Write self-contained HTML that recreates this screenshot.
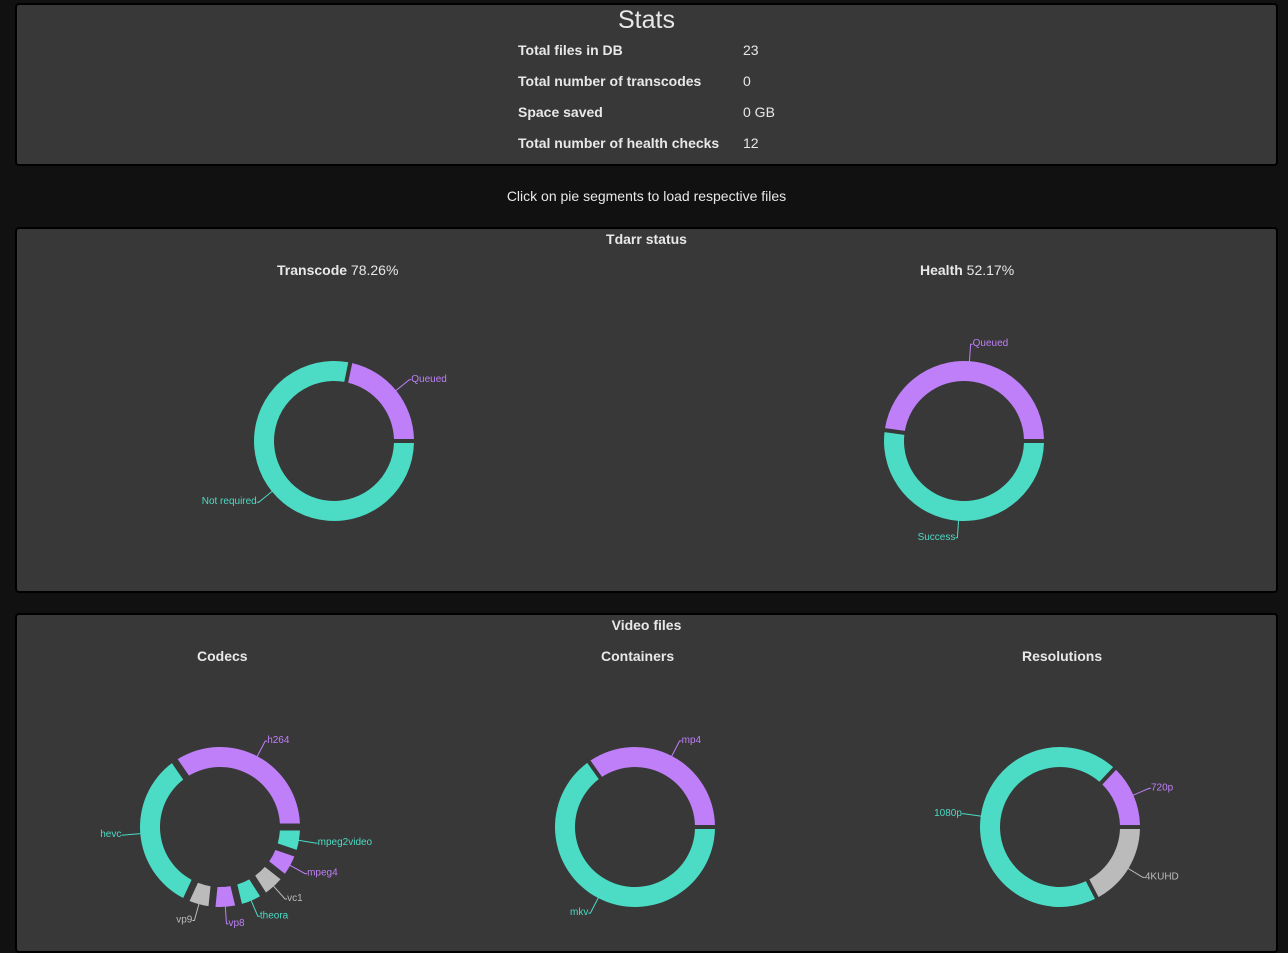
<!DOCTYPE html>
<html><head><meta charset="utf-8"><style>
body{margin:0;width:1288px;height:932px;background:#111;overflow:hidden;font-family:"Liberation Sans",sans-serif;color:#ddd;position:relative}
.panel{position:absolute;left:15px;width:1263px;background:#383838;border:2px solid #000;border-radius:4px;box-sizing:border-box}
.t{position:absolute;font-size:14px;color:#e8e8e8;white-space:nowrap}
.b{font-weight:bold}
svg{position:absolute;left:0;top:0}
</style></head><body>
<div class="panel" style="top:3px;height:163px"></div>
<div class="panel" style="top:227px;height:366px"></div>
<div class="panel" style="top:613px;height:340px"></div>
<div class="t" style="left:0;width:1293px;text-align:center;top:6px;font-size:25px">Stats</div>
<div class="t b" style="left:518px;top:42px">Total files in DB</div>
<div class="t" style="left:743px;top:42px">23</div>
<div class="t b" style="left:518px;top:73px">Total number of transcodes</div>
<div class="t" style="left:743px;top:73px">0</div>
<div class="t b" style="left:518px;top:104px">Space saved</div>
<div class="t" style="left:743px;top:104px">0 GB</div>
<div class="t b" style="left:518px;top:135px">Total number of health checks</div>
<div class="t" style="left:743px;top:135px">12</div>
<div class="t" style="left:0;width:1293px;text-align:center;top:188px">Click on pie segments to load respective files</div>
<div class="t b" style="left:0;width:1293px;text-align:center;top:231px">Tdarr status</div>
<div class="t" style="left:277px;top:262px"><b>Transcode</b> 78.26%</div>
<div class="t" style="left:920px;top:262px"><b>Health</b> 52.17%</div>
<div class="t b" style="left:0;width:1293px;text-align:center;top:617px">Video files</div>
<div class="t b" style="left:197px;top:648px">Codecs</div>
<div class="t b" style="left:601px;top:648px">Containers</div>
<div class="t b" style="left:1022px;top:648px">Resolutions</div>
<svg id="s" width="1288" height="932"></svg>
<script>
const C={t:'#4cdbc4',p:'#bf7ff8',g:'#bbbbbb'};
const transcodeLabels=['Queued','Not required'];
const transcodeValues=[5,18];
const healthLabels=['Queued','Success'];
const healthValues=[11,12];
const codecLabels=['h264','hevc','vp9','vp8','theora','vc1','mpeg4','mpeg2video'];
const codecValues=[6.5,6.3,1,1,1,1,1,1];
const containerLabels=['mp4','mkv'];
const containerValues=[8,15];
const resolutionLabels=['720p','1080p','4KUHD'];
const resolutionValues=[3,16,4];
const NS='http://www.w3.org/2000/svg';
const svg=document.getElementById('s');
function mk(tag,a){const e=document.createElementNS(NS,tag);for(const k in a)e.setAttribute(k,a[k]);svg.appendChild(e);return e;}
function pt(cx,cy,r,a){return [cx+r*Math.cos(a),cy-r*Math.sin(a)];}
function donut(name,cx,cy,labels,values,colors,gap){
  const tot=values.reduce((a,b)=>a+b,0);const R=80,r=60;let a0=0;
  labels.forEach((lab,i)=>{
    const a1=a0+values[i]/tot*2*Math.PI;
    const po=gap/2/R,pi=gap/2/r;
    const s1=pt(cx,cy,R,a0+po),s2=pt(cx,cy,R,a1-po),s3=pt(cx,cy,r,a1-pi),s4=pt(cx,cy,r,a0+pi);
    const lg=(a1-a0)>Math.PI?1:0;
    const col=C[colors[i]];
    const p=mk('path',{d:`M${s1}A${R},${R} 0 ${lg} 0 ${s2}L${s3}A${r},${r} 0 ${lg} 1 ${s4}Z`,fill:col,style:'cursor:pointer'});
    
    
    const m=(a0+a1)/2;const q1=pt(cx,cy,R-2,m),q2=pt(cx,cy,R+17,m);
    const right=Math.cos(m)>=0;const x3=q2[0]+(right?2:-2);
    const l=mk('polyline',{points:`${q1} ${q2} ${x3},${q2[1]}`,fill:'none',stroke:col,'stroke-width':1});
    
    
    const t=mk('text',{x:x3,y:q2[1]+2,fill:col,'font-size':10,'font-family':'Liberation Sans,sans-serif','text-anchor':right?'start':'end'});
    t.textContent=lab;
    
    
    a0=a1;
  });
}
donut('transcode',334,441,transcodeLabels,transcodeValues,['p','t'],4);
donut('health',964,441,healthLabels,healthValues,['p','t'],4);
donut('codecs',220,827,codecLabels,codecValues,['p','t','g','p','t','g','p','t'],7);
donut('containers',635,827,containerLabels,containerValues,['p','t'],4);
donut('resolutions',1060,827,resolutionLabels,resolutionValues,['p','t','g'],4);
</script>
</body></html>
